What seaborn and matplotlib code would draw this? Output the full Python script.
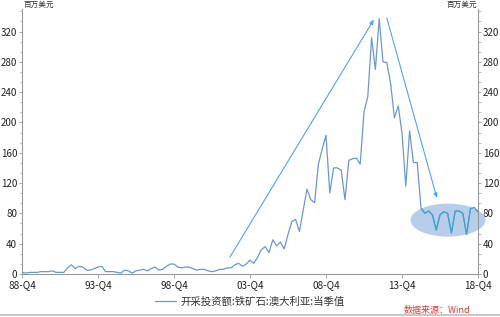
import numpy as np
import pandas as pd
import matplotlib
matplotlib.use("Agg")
import matplotlib.pyplot as plt
import seaborn as sns
from matplotlib.patches import Ellipse
from matplotlib.lines import Line2D

# ---- data ----
tick_labels = ["88-Q4", "93-Q4", "98-Q4", "03-Q4", "08-Q4", "13-Q4", "18-Q4"]
tick_positions = [0, 20, 40, 60, 80, 100, 120]
y_ticks = [0, 40, 80, 120, 160, 200, 240, 280, 320]
series_name = "开采投资额:铁矿石:澳大利亚:当季值"
unit_label = "百万美元"
source_label = "数据来源：Wind"

values = [
    2, 1, 2, 2, 2, 3, 3, 3, 4, 2,
    2, 2, 8, 12, 7, 10, 9, 5, 5, 7,
    9, 10, 3, 3, 3, 2, 1, 5, 4, 1,
    4, 5, 6, 4, 7, 9, 5, 6, 10, 13,
    13, 9, 8, 9, 9, 7, 5, 6, 6, 4,
    3, 4, 6, 6, 8, 8, 12, 14, 10, 13,
    18, 14, 22, 32, 36, 28, 45, 37, 42, 33,
    52, 69, 72, 56, 84, 112, 98, 94, 145, 165,
    183, 107, 140, 140, 137, 98, 150, 152, 153, 145,
    214, 234, 312, 270, 337, 280, 279, 252, 206, 222,
    186, 116, 189, 147, 147, 87, 80, 83, 78, 58,
    78, 82, 80, 54, 83, 83, 80, 52, 86, 88,
    82,
]
quarters = list(range(len(values)))

# annotation anchors (quarter index, value)
arrow_up = [(54.7, 22), (92.6, 336)]
arrow_down = [(96.0, 338), (109.2, 100)]
ellipse_center = (112.1, 71)
ellipse_size = (19.7, 43.6)

df = pd.DataFrame({"q": quarters, "v": values})

sns.set_style("white")
plt.rcParams["font.family"] = ["Noto Sans CJK SC", "DejaVu Sans"]

fig = plt.figure(figsize=(5.0, 3.17), dpi=100)
ax = fig.add_axes([0.044, 0.136, 0.912, 0.836])

line_color = "#6a98d6"
grey = "#9a9a9a"

# ellipse (behind the line)
ell = Ellipse(ellipse_center, ellipse_size[0], ellipse_size[1],
              facecolor="#b7cde9", edgecolor="none", zorder=1, clip_on=False)
ax.add_patch(ell)

sns.lineplot(data=df, x="q", y="v", ax=ax, color=line_color, linewidth=0.9,
             label=series_name, zorder=3)

# teal part of line inside ellipse
teal, = ax.plot(df["q"], df["v"], color="#39a9c6", linewidth=0.9, zorder=4)
teal.set_clip_path(ell)

arrow_kw = dict(arrowstyle="-|>,head_length=0.45,head_width=0.18", color="#4ea4f5",
                lw=0.8, mutation_scale=6, shrinkA=0, shrinkB=0)
ax.annotate("", xy=arrow_up[1], xytext=arrow_up[0], arrowprops=arrow_kw,
            annotation_clip=False, zorder=5)
ax.annotate("", xy=arrow_down[1], xytext=arrow_down[0], arrowprops=arrow_kw,
            annotation_clip=False, zorder=5)

ax.set_xlim(0, 120)
ax.set_ylim(0, 350)
ax.set_xticks(tick_positions)
ax.set_xticklabels(tick_labels)
ax.set_yticks(y_ticks)
ax.set_yticks(np.arange(0, 350, 40 / 3), minor=True)
ax.set_xlabel("")
ax.set_ylabel("")

for side in ["left", "right", "bottom"]:
    ax.spines[side].set_visible(True)
    ax.spines[side].set_color(grey)
    ax.spines[side].set_linewidth(0.8)
ax.spines["top"].set_visible(False)

ax.tick_params(axis="y", which="both", left=True, right=True,
               labelleft=True, labelright=True, direction="out",
               color=grey, labelsize=7, labelcolor="#222222", pad=1)
ax.tick_params(axis="y", which="major", length=2.5, width=0.6)
ax.tick_params(axis="y", which="minor", length=1.8, width=0.5)
ax.tick_params(axis="x", which="major", bottom=True, length=3, width=0.6,
               color=grey, labelsize=7.2, labelcolor="#222222", pad=1.5)

ax.text(0.003, 1.0, unit_label, transform=ax.transAxes, fontsize=5.5,
        ha="left", va="bottom", color="#333333")
ax.text(0.997, 1.0, unit_label, transform=ax.transAxes, fontsize=5.5,
        ha="right", va="bottom", color="#333333")

leg = ax.legend(loc="upper center", bbox_to_anchor=(0.5, -0.05), frameon=False,
                fontsize=7.5, handlelength=2.0, handletextpad=0.4)
for t in leg.get_texts():
    t.set_color("#333333")

fig.text(0.94, 0.019, source_label, fontsize=6.5, color="#e03a3a",
         style="italic", ha="right", va="center")

fig.add_artist(Line2D([0, 1], [0.006, 0.006], transform=fig.transFigure,
                      color="#bdbdbd", linewidth=1.2))

fig.savefig("out.png", dpi=100)
